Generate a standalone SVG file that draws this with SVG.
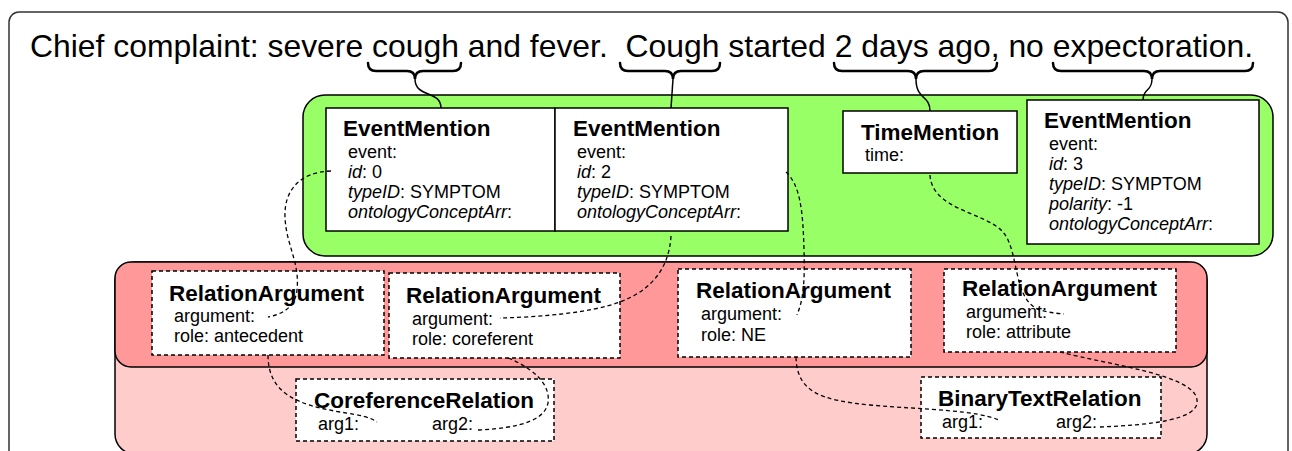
<svg xmlns="http://www.w3.org/2000/svg" width="1292" height="451" viewBox="0 0 1292 451">
<style>
text{font-family:"Liberation Sans",Arial,Helvetica,sans-serif;fill:#000}
.t{font-size:22.5px;font-weight:bold}
.f{font-size:18px}
.i{font-style:italic}
.box{fill:#fff;stroke:#000;stroke-width:1.5}
.dbox{fill:#fff;stroke:#000;stroke-width:1.5;stroke-dasharray:4 3}
.brace{fill:none;stroke:#000;stroke-width:2.5;stroke-linecap:round}
.sol{fill:none;stroke:#000;stroke-width:1.5}
.dash{fill:none;stroke:#000;stroke-width:1.3;stroke-dasharray:4 3}
</style>
<rect id="frame" x="9" y="12" width="1279" height="460" rx="10" fill="#fff" stroke="#333" stroke-width="1.5"/>
<text id="sentence" x="30" y="57" font-size="32" xml:space="preserve" style="white-space:pre" textLength="1223" lengthAdjust="spacingAndGlyphs">Chief complaint: severe cough and fever.  Cough started 2 days ago, no expectoration.</text>
<g id="braces">
<path class="brace" d="M368,63 Q368,71 376,71 L407,71 Q415,71 415,79 Q415,71 423,71 L453,71 Q461,71 461,63"/>
<path class="brace" d="M620,63 Q620,71 628,71 L665,71 Q673,71 673,79 Q673,71 681,71 L712,71 Q720,71 720,63"/>
<path class="brace" d="M834,63 Q834,71 842,71 L908,71 Q916,71 916,79 Q916,71 924,71 L989,71 Q997,71 997,63"/>
<path class="brace" d="M1053,63 Q1053,71 1061,71 L1144,71 Q1152,71 1152,79 Q1152,71 1160,71 L1245,71 Q1253,71 1253,63"/>
</g>
<g id="mentions">
<rect x="303" y="95" width="970" height="161" rx="22" fill="#99ff66" stroke="#000" stroke-width="1.5"/>
</g>
<g id="relations">
<rect x="115" y="262" width="1092" height="192" rx="20" fill="#ffcccc" stroke="#000" stroke-width="1.5"/>
<rect x="115" y="262" width="1092" height="105" rx="16" fill="#ff9999" stroke="#000" stroke-width="1.5"/>
</g>
<g id="em0">
<rect class="box" x="326" y="108" width="229" height="123"/>
<text class="t" x="343" y="136">EventMention</text>
<text class="f" x="348" y="158">event:</text>
<text class="f" x="348" y="178"><tspan class="i">id</tspan>: 0</text>
<text class="f" x="348" y="198"><tspan class="i">typeID</tspan>: SYMPTOM</text>
<text class="f" x="348" y="218"><tspan class="i">ontologyConceptArr</tspan>:</text>
</g>
<g id="em2">
<rect class="box" x="555" y="108" width="233" height="123"/>
<text class="t" x="573" y="136">EventMention</text>
<text class="f" x="577" y="158">event:</text>
<text class="f" x="577" y="178"><tspan class="i">id</tspan>: 2</text>
<text class="f" x="577" y="198"><tspan class="i">typeID</tspan>: SYMPTOM</text>
<text class="f" x="577" y="218"><tspan class="i">ontologyConceptArr</tspan>:</text>
</g>
<g id="tm">
<rect class="box" x="843" y="111" width="174" height="62"/>
<text class="t" x="861" y="140">TimeMention</text>
<text class="f" x="865" y="161">time:</text>
</g>
<g id="em3">
<rect class="box" x="1027" y="100" width="232" height="144"/>
<text class="t" x="1044" y="128">EventMention</text>
<text class="f" x="1049" y="150">event:</text>
<text class="f" x="1049" y="170"><tspan class="i">id</tspan>: 3</text>
<text class="f" x="1049" y="190"><tspan class="i">typeID</tspan>: SYMPTOM</text>
<text class="f" x="1049" y="210"><tspan class="i">polarity</tspan>: -1</text>
<text class="f" x="1049" y="230"><tspan class="i">ontologyConceptArr</tspan>:</text>
</g>
<g id="ra_antecedent">
<rect class="dbox" x="152" y="271" width="232" height="84"/>
<text class="t" x="169" y="301">RelationArgument</text>
<text class="f" x="174" y="322">argument:</text>
<text class="f" x="174" y="342">role: antecedent</text>
</g>
<g id="ra_coreferent">
<rect class="dbox" x="389" y="273" width="231" height="85"/>
<text class="t" x="406" y="303">RelationArgument</text>
<text class="f" x="412" y="325">argument:</text>
<text class="f" x="412" y="345">role: coreferent</text>
</g>
<g id="ra_ne">
<rect class="dbox" x="678" y="269" width="233" height="88"/>
<text class="t" x="696" y="298">RelationArgument</text>
<text class="f" x="701" y="320">argument:</text>
<text class="f" x="701" y="341">role: NE</text>
</g>
<g id="ra_attribute">
<rect class="dbox" x="944" y="269" width="232" height="83"/>
<text class="t" x="962" y="296">RelationArgument</text>
<text class="f" x="966" y="318">argument:</text>
<text class="f" x="966" y="338">role: attribute</text>
</g>
<g id="coref">
<rect class="dbox" x="296" y="379" width="258" height="62"/>
<text class="t" x="314" y="408">CoreferenceRelation</text>
<text class="f" x="318" y="430">arg1:</text>
<text class="f" x="432" y="430">arg2:</text>
</g>
<g id="binary">
<rect class="dbox" x="921" y="377" width="240" height="61"/>
<text class="t" x="938" y="406">BinaryTextRelation</text>
<text class="f" x="942" y="428">arg1:</text>
<text class="f" x="1056" y="428">arg2:</text>
</g>
<g id="connectors">
<path class="sol" d="M415,79 C415,98 441,90 441,108"/>
<path class="sol" d="M673,79 L671,108"/>
<path class="sol" d="M916,79 C916,100 930,95 930,111"/>
<path class="sol" d="M1152,79 C1152,92 1143,88 1143,100"/>
<path class="dash" d="M331,171 C300,172 284,190 285,217 C286,245 300,262 297,290 C295,308 282,314 268,317"/>
<path class="dash" d="M671,236 C669,268 652,290 620,302 C590,313 540,317 500,318"/>
<path class="dash" d="M786,172 C800,185 803,210 804,250 C805,285 803,300 797,315"/>
<path class="dash" d="M930,175 C932,210 985,212 1003,232 C1020,252 1012,300 1040,310 Q1050,313 1064,314"/>
<path class="dash" d="M268,355 C268,395 300,405 340,412 C360,415 370,417 377,422"/>
<path class="dash" d="M478,430 C520,428 552,420 548,395 C545,375 520,363 506,357"/>
<path class="dash" d="M796,357 C797,392 820,400 870,405 C930,410 975,410 999,420"/>
<path class="dash" d="M1100,427 C1150,425 1200,420 1197,400 C1195,375 1110,365 1060,352"/>
</g>
</svg>
